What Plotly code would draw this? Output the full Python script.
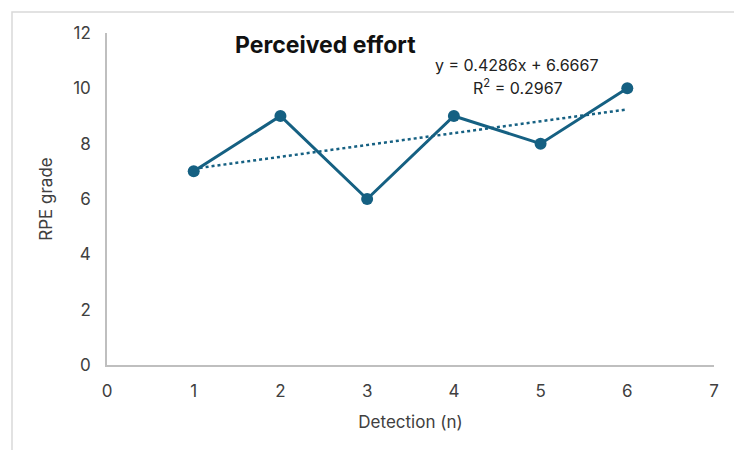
import numpy as np
import plotly.graph_objects as go

detection = [1, 2, 3, 4, 5, 6]
rpe = [7, 9, 6, 9, 8, 10]
x_ticks = [0, 1, 2, 3, 4, 5, 6, 7]
y_ticks = [0, 2, 4, 6, 8, 10, 12]

COLOR = "#156082"
FONT = "Inter"
TXT = "#404040"

slope, intercept = np.polyfit(detection, rpe, 1)
trend_x = [detection[0], detection[-1]]
trend_y = [slope * v + intercept for v in trend_x]

W, H = 734, 450
L, R, T, B = 107, 20, 33, 85
pw, ph = W - L - R, H - T - B


def px(x):
    return (x - L) / pw


def py(y):
    return (H - B - y) / ph


fig = go.Figure()
fig.add_trace(go.Scatter(x=trend_x, y=trend_y, mode="lines",
                         line=dict(color=COLOR, width=2.5, dash="dot"),
                         showlegend=False, hoverinfo="skip"))
fig.add_trace(go.Scatter(x=detection, y=rpe, mode="lines+markers",
                         line=dict(color=COLOR, width=3),
                         marker=dict(color=COLOR, size=12),
                         showlegend=False))

fig.update_layout(
    width=W, height=H,
    margin=dict(l=L, r=R, t=T, b=B),
    paper_bgcolor="white", plot_bgcolor="white",
    font=dict(family=FONT, color=TXT, size=17),
    xaxis=dict(range=[0, 7], tickvals=x_ticks, showgrid=False, zeroline=False,
               showline=True, linecolor="#bfbfbf", linewidth=1.5,
               ticks="", tickfont=dict(size=17, color=TXT), ticklabelstandoff=10,
               title=dict(text="Detection (n)", font=dict(size=17, color=TXT), standoff=16)),
    yaxis=dict(range=[0, 12], tickvals=y_ticks, showgrid=False, zeroline=False,
               showline=True, linecolor="#bfbfbf", linewidth=1.5,
               ticks="", tickfont=dict(size=17, color=TXT), ticklabelstandoff=11,
               title=dict(text="RPE grade", font=dict(size=17, color=TXT), standoff=16)),
    shapes=[dict(type="rect", xref="paper", yref="paper",
                 x0=px(12), x1=px(760), y0=py(470), y1=py(12),
                 line=dict(color="#d9d9d9", width=1.5), layer="below")],
    annotations=[
        dict(text="<b>Perceived effort</b>", xref="paper", yref="paper",
             x=px(325), y=py(45), xanchor="center", yanchor="middle", showarrow=False,
             font=dict(size=23, color="#111111", family=FONT)),
        dict(text="y = 0.4286x + 6.6667", xref="paper", yref="paper",
             x=px(517), y=py(65), xanchor="center", yanchor="middle", showarrow=False,
             font=dict(size=16, color="#222222", family=FONT)),
        dict(text="R<sup>2</sup> = 0.2967", xref="paper", yref="paper",
             x=px(518), y=py(87), xanchor="center", yanchor="middle", showarrow=False,
             font=dict(size=16, color="#222222", family=FONT)),
    ],
)

fig.write_html("out.html")
